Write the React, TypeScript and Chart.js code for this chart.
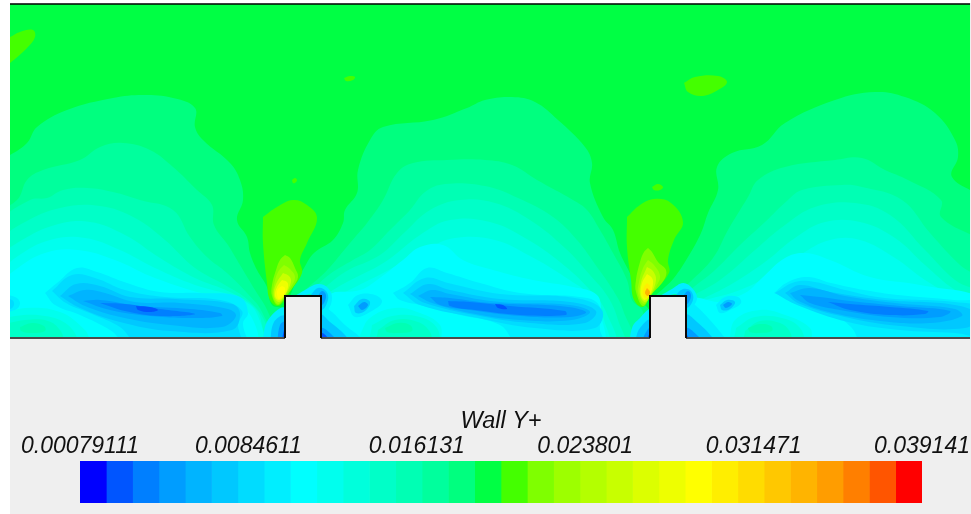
import React, { useEffect, useRef } from "react";
import { Chart, registerables } from "chart.js";
Chart.register(...registerables);

type P = [number, number];
type Contour = { level: number; points: P[]; straight?: boolean };

// legend
const colourLevels = [
  "#0000ff","#0055ff","#007fff","#009dff","#00b4ff","#00c8ff","#00dcff","#00eeff",
  "#00ffff","#00ffee","#00ffdc","#00ffc8","#00ffb4","#00ff9d","#00ff7f","#00ff44",
  "#44ff00","#7fff00","#9dff00","#b4ff00","#c8ff00","#dcff00","#eeff00","#ffff00",
  "#ffee00","#ffdc00","#ffc800","#ffb400","#ff9d00","#ff7f00","#ff5500","#ff0000",
];
const levelEdges = [
  0.00079111,0.00198955,0.00318799,0.00438643,0.00558487,0.00678331,0.00798175,0.00918019,
  0.01037863,0.01157707,0.01277551,0.01397395,0.01517239,0.01637083,0.01756927,0.01876771,
  0.01996615,0.02116459,0.02236303,0.02356147,0.02475991,0.02595835,0.02715679,0.02835523,
  0.02955367,0.03075211,0.03195055,0.03314899,0.03434743,0.03554587,0.03674431,0.03794275,0.039141,
];
const tickValues = [0.00079111, 0.0084611, 0.016131, 0.023801, 0.031471, 0.039141];
const tickLabels = ["0.00079111", "0.0084611", "0.016131", "0.023801", "0.031471", "0.039141"];
const legendTitle = "Wall Y+";

// left cavity
const left14: P[] = [[-10,165],[10,155],[27,143],[37,127],[67,110],[113,98],[143,95],[173,98],[195,108],[195,127],[203,140],[230,163],[240,180],[243,200],[237,220],[247,237],[250,253],[257,270],[267,287],[272,305],[285,310],[285,345],[-10,345]];
const left13: P[] = [[-10,215],[17,200],[27,180],[43,170],[80,160],[100,147],[123,143],[150,150],[173,167],[197,190],[212,205],[214,225],[228,245],[240,265],[255,290],[268,312],[278,345],[-10,345]];
const left12: P[] = [[-10,225],[30,200],[47,198],[63,190],[87,188],[113,192],[140,200],[173,210],[190,237],[207,257],[227,273],[247,293],[262,312],[270,345],[-10,345]];
const left11: P[] = [[-10,245],[25,222],[60,208],[100,206],[135,218],[165,240],[195,268],[225,285],[248,300],[264,320],[268,345],[-10,345]];
const left10: P[] = [[-10,262],[22,240],[55,225],[90,222],[125,235],[160,258],[195,278],[230,292],[255,308],[262,325],[262,345],[-10,345]];
const left9: P[] = [[-10,280],[18,256],[50,240],[85,238],[120,250],[155,268],[195,285],[235,297],[256,312],[258,345],[-10,345]];
const left8: P[] = [[-10,292],[15,270],[45,253],[78,250],[115,260],[150,276],[190,290],[232,302],[252,318],[254,345],[95,345],[85,330],[60,312],[25,308],[-10,315]];
const leftIsland10: P[] = [[-5,322],[15,316],[45,316],[68,325],[75,340],[-5,340]];
const leftIsland11: P[] = [[5,324],[25,320],[48,321],[60,330],[62,340],[5,340]];
const leftIsland12: P[] = [[20,327],[32,323],[44,326],[45,331],[32,333],[21,331]];
const leftEdge7: P[] = [[-10,293],[15,297],[20,303],[15,310],[-10,313]];
const leftEdge6: P[] = [[-10,296],[12,300],[14,305],[10,309],[-10,310]];
const left7: P[] = [[45,293],[57,283],[77,268],[97,272],[127,283],[160,292],[200,293],[240,297],[248,313],[243,323],[245,345],[130,345],[110,330],[80,315],[55,305]];
const left6: P[] = [[52,291],[72,275],[95,278],[125,290],[165,297],[220,300],[242,311],[238,325],[240,345],[140,345],[120,327],[92,314],[66,303]];
const left5: P[] = [[60,296],[76,284],[100,286],[130,297],[175,299],[232,304],[240,314],[232,330],[170,331],[120,322],[80,308]];
const left4: P[] = [[68,296],[85,290],[105,293],[135,302],[180,303],[228,309],[236,316],[222,327],[170,325],[120,317],[85,306]];
const left3: P[] = [[83,301],[100,300],[140,306],[190,309],[220,313],[222,316],[195,318],[150,316],[110,310]];
const left2: P[] = [[100,303],[125,304],[160,309],[195,314],[160,316],[125,311]];
const left1: P[] = [[136,306],[150,307],[158,310],[150,312],[138,310]];
const rib1Foot7: P[] = [[262,345],[268,320],[285,308],[285,345]];
const rib1Foot5: P[] = [[270,345],[274,322],[285,316],[285,345]];
const rib1Foot3: P[] = [[277,345],[280,325],[285,322],[285,345]];
const rib1Foot1: P[] = [[281,345],[284,330],[285,328],[285,345]];

// middle cavity
const mid14: P[] = [[290,296],[296,282],[304,268],[314,253],[333,240],[343,223],[345,210],[357,193],[358,170],[370,140],[383,127],[433,120],[467,108],[485,100],[512,97],[535,102],[558,120],[585,147],[592,163],[590,183],[603,217],[613,230],[620,253],[633,280],[637,297],[650,312],[650,345],[285,345]];
const mid13: P[] = [[305,290],[320,277],[330,267],[350,243],[367,223],[383,200],[397,173],[413,163],[447,160],[485,160],[512,165],[537,180],[573,200],[587,210],[600,230],[613,253],[627,280],[632,300],[643,312],[643,345],[300,345]];
const mid12: P[] = [[310,292],[330,274],[353,260],[370,250],[390,230],[410,210],[425,192],[445,184],[485,186],[518,198],[553,217],[577,240],[597,267],[613,290],[623,310],[630,345],[305,345]];
const mid11: P[] = [[316,295],[345,272],[380,255],[405,232],[430,210],[460,200],[495,203],[530,220],[565,248],[590,275],[608,297],[618,320],[622,345],[312,345]];
const mid10: P[] = [[322,297],[345,283],[385,262],[420,235],[450,220],[490,222],[525,238],[560,262],[590,290],[606,312],[612,345],[322,345]];
const mid9: P[] = [[345,292],[385,272],[425,250],[455,238],[495,240],[530,256],[565,277],[593,298],[604,320],[606,345],[330,345]];
const mid8: P[] = [[335,292],[360,290],[377,280],[403,260],[420,247],[443,245],[463,260],[493,270],[533,280],[573,287],[597,295],[601,313],[601,345],[445,345],[440,325],[420,313],[395,308],[370,318],[360,335],[355,345],[321,345],[321,300]];
const midIsland10: P[] = [[372,325],[392,316],[420,317],[437,328],[437,342],[372,342]];
const midIsland11: P[] = [[378,330],[395,320],[418,322],[430,332],[430,342],[378,342]];
const midIsland12: P[] = [[385,328],[398,323],[410,325],[412,331],[398,333],[387,332]];
const mid7: P[] = [[393,293],[410,283],[427,268],[447,273],[480,283],[520,293],[587,298],[600,307],[600,330],[604,345],[520,345],[500,325],[460,315],[420,305],[400,300]];
const mid6: P[] = [[403,293],[425,278],[448,283],[500,294],[575,298],[602,310],[595,328],[535,328],[478,318],[420,305]];
const mid5: P[] = [[410,294],[428,284],[450,290],[500,299],[570,302],[596,311],[585,323],[530,323],[475,315],[425,303]];
const mid4: P[] = [[418,296],[432,290],[450,294],[500,302],[570,305],[590,312],[572,320],[520,320],[470,313],[432,303]];
const mid3: P[] = [[430,297],[450,298],[490,303],[560,306],[586,312],[570,317],[520,316],[470,310],[440,305]];
const mid2: P[] = [[448,301],[470,302],[510,306],[565,311],[566,315],[520,315],[475,310],[450,306]];
const mid1: P[] = [[495,304],[503,305],[507,309],[498,308]];
const rib1Top7: P[] = [[295,296],[305,290],[318,284],[328,288],[332,298],[328,310],[321,315],[321,296]];
const rib1Top5: P[] = [[310,296],[318,288],[326,291],[328,300],[321,310]];
const rib1Top3: P[] = [[318,296],[322,291],[326,295],[324,303],[321,305]];
const rib1After7: P[] = [[321,345],[321,305],[332,312],[345,325],[360,337],[365,345]];
const rib1After5: P[] = [[321,345],[321,315],[330,322],[345,335],[350,345]];
const rib1After3: P[] = [[321,345],[321,328],[335,338],[338,345]];
const rib1After1: P[] = [[321,345],[321,333],[328,338],[330,345]];
const midSpot7: P[] = [[348,305],[358,295],[375,295],[382,302],[370,312],[355,317]];
const midSpot5: P[] = [[354,306],[362,299],[370,302],[365,311],[356,313]];
const midSpot3: P[] = [[358,306],[364,302],[368,305],[362,310]];
const rib2Foot7: P[] = [[650,345],[650,310],[640,318],[632,328],[632,345]];
const rib2Foot5: P[] = [[650,345],[650,320],[640,328],[636,338],[636,345]];
const rib2Foot3: P[] = [[650,345],[650,328],[644,336],[642,345]];
const rib2Foot1: P[] = [[650,345],[650,333],[646,345]];

// right cavity
const right14: P[] = [[655,296],[665,287],[674,278],[688,257],[701,233],[708,213],[718,190],[717,167],[732,153],[762,145],[785,123],[835,100],[875,92],[905,97],[935,113],[955,140],[958,157],[952,177],[985,205],[985,345],[650,345]];
const right13: P[] = [[675,295],[690,282],[713,258],[728,230],[748,197],[758,180],[785,167],[835,160],[862,158],[885,170],[908,180],[941,200],[941,217],[985,250],[985,345],[665,345]];
const right12: P[] = [[680,298],[695,286],[715,270],[740,245],[765,222],[788,200],[802,190],[842,185],[862,187],[902,200],[930,233],[960,265],[985,285],[985,345],[672,345]];
const right11: P[] = [[690,297],[720,280],[755,250],[785,225],[815,207],[855,203],[890,215],[925,250],[955,280],[985,298],[985,345],[682,345]];
const right10: P[] = [[700,300],[730,285],[765,262],[795,238],[825,222],[860,222],[895,238],[925,265],[955,290],[985,305],[985,345],[690,345]];
const right9: P[] = [[705,300],[740,290],[770,275],[800,255],[830,240],[860,240],[895,258],[925,280],[960,300],[985,310],[985,345],[695,345]];
const right8: P[] = [[718,302],[745,293],[762,278],[785,258],[805,253],[830,260],[870,277],[920,285],[985,302],[985,345],[815,345],[810,328],[785,315],[760,310],[735,320],[725,345],[688,345],[688,300]];
const rightIsland10: P[] = [[736,328],[755,317],[782,318],[800,328],[802,342],[736,342]];
const rightIsland11: P[] = [[745,331],[760,321],[780,323],[790,332],[790,342],[745,342]];
const rightIsland12: P[] = [[748,328],[760,324],[771,326],[772,331],[760,333],[750,332]];
const right7: P[] = [[774,293],[788,282],[808,277],[831,283],[864,290],[898,295],[954,300],[985,305],[985,345],[865,345],[851,327],[831,313],[798,303]];
const right6: P[] = [[775,293],[795,282],[815,282],[845,290],[885,298],[955,302],[985,310],[985,335],[955,333],[900,330],[848,322],[797,305]];
const right5: P[] = [[785,293],[800,285],[830,292],[885,300],[955,305],[980,316],[965,328],[900,326],[845,317],[800,304]];
const right4: P[] = [[790,293],[810,288],[845,296],[895,303],[955,309],[962,316],[930,323],[880,321],[825,311],[797,300]];
const right3: P[] = [[800,295],[820,297],[850,301],[900,306],[950,311],[940,317],[890,317],[840,310],[810,303]];
const right2: P[] = [[828,302],[850,304],[890,307],[928,311],[925,314],[890,315],[850,310]];
const rib2Top7: P[] = [[660,296],[672,289],[683,283],[692,288],[697,298],[692,308],[686,314],[686,296]];
const rib2Top5: P[] = [[675,296],[683,289],[691,291],[693,300],[686,308]];
const rib2Top3: P[] = [[683,296],[688,291],[691,295],[689,302],[686,304]];
const rib2After7: P[] = [[686,345],[686,300],[695,305],[710,320],[725,338],[730,345]];
const rib2After5: P[] = [[686,345],[686,315],[697,322],[712,337],[716,345]];
const rib2After3: P[] = [[686,345],[686,328],[698,336],[703,345]];
const rib2After1: P[] = [[686,345],[686,334],[691,345]];
const rightSpot7: P[] = [[716,305],[725,297],[738,297],[741,303],[730,310],[720,313]];
const rightSpot5: P[] = [[720,305],[727,300],[735,302],[730,309],[722,310]];
const rightSpot3: P[] = [[723,305],[728,302],[732,304],[726,308]];

// plumes ahead of the ribs
const plume1L16: P[] = [[263,217],[277,207],[293,200],[307,205],[317,218],[307,243],[300,260],[302,273],[290,292],[285,300],[278,306],[270,300],[267,283],[263,243]];
const plume1L17: P[] = [[285,255],[290,258],[295,268],[298,277],[293,287],[287,295],[278,305],[272,296],[272,285],[276,270],[280,260]];
const plume1L18: P[] = [[284,265],[290,269],[295,277],[291,287],[285,296],[278,304],[273,296],[274,285],[278,272]];
const plume1L20: P[] = [[283,273],[289,276],[291,282],[285,295],[279,302],[274,296],[276,284]];
const plume1L22: P[] = [[282,280],[287,282],[288,287],[284,296],[279,300],[275,296],[277,287]];
const plume1L23: P[] = [[282,286],[285,288],[284,294],[279,299],[277,294],[278,289]];
const plume2L16: P[] = [[627,217],[640,205],[654,199],[671,203],[683,222],[674,240],[668,260],[669,273],[651,295],[643,307],[634,300],[631,280],[627,247]];
const plume2L17: P[] = [[648,248],[652,252],[658,262],[666,270],[664,280],[651,295],[643,306],[636,292],[636,280],[640,262],[644,252]];
const plume2L18: P[] = [[648,260],[654,265],[660,276],[656,287],[651,295],[644,304],[638,294],[639,282],[643,268]];
const plume2L20: P[] = [[647,267],[653,271],[656,280],[651,294],[645,302],[640,295],[641,282]];
const plume2L22: P[] = [[647,274],[652,278],[653,284],[650,294],[645,300],[641,295],[642,283]];
const plume2L24: P[] = [[647,283],[650,286],[650,294],[646,298],[643,294],[644,287]];
const plume2L27: P[] = [[647,288],[650,292],[648,296],[645,293]];

// isolated patches in the upper flow
const patchTopLeft: P[] = [[-10,45],[10,37],[20,32],[33,30],[35,37],[27,48],[10,63],[-10,78]];
const patchA: P[] = [[344,78],[350,76],[355,77],[353,80],[346,81]];
const patchB: P[] = [[292,180],[295,178],[297,180],[295,183],[293,183]];
const patchC: P[] = [[684,83],[695,77],[718,76],[727,82],[718,90],[702,96],[688,92]];
const patchD: P[] = [[652,187],[658,184],[663,187],[660,190],[654,190]];
const baseField: P[] = [[-50,-50],[1010,-50],[1010,400],[-50,400]];

// walls
const rib1Solid: P[] = [[285,296],[321,296],[321,345],[285,345]];
const rib2Solid: P[] = [[650,296],[686,296],[686,345],[650,345]];
const rib1Outline: P[] = [[285,338],[285,296],[321,296],[321,338]];
const rib2Outline: P[] = [[650,338],[650,296],[686,296],[686,338]];
const wallA: P[] = [[10,338],[285,338]];
const wallB: P[] = [[321,338],[650,338]];
const wallC: P[] = [[686,338],[970,338]];
const topWall: P[] = [[10,4],[970,4]];

const contours: Contour[] = [
  { level: 15, points: baseField, straight: true },
  ...[left14, mid14, right14].map((points) => ({ level: 14, points })),
  ...[left13, mid13, right13].map((points) => ({ level: 13, points })),
  ...[left12, mid12, right12].map((points) => ({ level: 12, points })),
  ...[left11, mid11, right11].map((points) => ({ level: 11, points })),
  ...[left10, mid10, right10].map((points) => ({ level: 10, points })),
  ...[left9, mid9, right9].map((points) => ({ level: 9, points })),
  ...[left8, mid8, right8].map((points) => ({ level: 8, points })),
  ...[leftIsland10, midIsland10, rightIsland10].map((points) => ({ level: 10, points })),
  ...[leftIsland11, midIsland11, rightIsland11].map((points) => ({ level: 11, points })),
  ...[leftIsland12, midIsland12, rightIsland12].map((points) => ({ level: 12, points })),
  ...[left7, mid7, right7, leftEdge7].map((points) => ({ level: 7, points })),
  ...[left6, mid6, right6, leftEdge6].map((points) => ({ level: 6, points })),
  ...[left5, mid5, right5].map((points) => ({ level: 5, points })),
  ...[left4, mid4, right4].map((points) => ({ level: 4, points })),
  ...[left3, mid3, right3].map((points) => ({ level: 3, points })),
  ...[left2, mid2, right2].map((points) => ({ level: 2, points })),
  { level: 1, points: left1 },
  { level: 1, points: mid1 },
  ...[patchTopLeft, patchA, patchB, patchC, patchD].map((points) => ({ level: 16, points })),
  { level: 16, points: plume1L16 }, { level: 17, points: plume1L17 }, { level: 18, points: plume1L18 },
  { level: 20, points: plume1L20 }, { level: 22, points: plume1L22 }, { level: 23, points: plume1L23 },
  { level: 16, points: plume2L16 }, { level: 17, points: plume2L17 }, { level: 18, points: plume2L18 },
  { level: 20, points: plume2L20 }, { level: 22, points: plume2L22 }, { level: 24, points: plume2L24 },
  { level: 27, points: plume2L27 },
  ...[rib1Foot7, rib1Top7, rib1After7, rib2Foot7, rib2Top7, rib2After7, midSpot7, rightSpot7].map((points) => ({ level: 7, points })),
  ...[rib1Foot5, rib1Top5, rib1After5, rib2Foot5, rib2Top5, rib2After5, midSpot5, rightSpot5].map((points) => ({ level: 5, points })),
  ...[rib1Foot3, rib1Top3, rib1After3, rib2Foot3, rib2Top3, rib2After3, midSpot3, rightSpot3].map((points) => ({ level: 3, points })),
  ...[rib1Foot1, rib1After1, rib2Foot1, rib2After1].map((points) => ({ level: 1, points })),
];

const SOLID = "#efefef";
const toXY = (pts: P[]) => pts.map(([x, y]) => ({ x, y }));

export default function App() {
  const fieldRef = useRef<HTMLCanvasElement>(null);
  const barRef = useRef<HTMLCanvasElement>(null);

  useEffect(() => {
    document.body.style.margin = "0";
    document.body.style.background = "#ffffff";

    const fills: any[] = contours.map((c) => ({
      data: toXY([...c.points, c.points[0]]),
      backgroundColor: colourLevels[c.level],
      borderColor: "transparent",
      borderWidth: 0,
      fill: "shape",
      showLine: true,
      pointRadius: 0,
      tension: c.straight ? 0 : 0.4,
      capBezierPoints: false,
    }));
    [rib1Solid, rib2Solid].forEach((pts) =>
      fills.push({
        data: toXY([...pts, pts[0]]),
        backgroundColor: SOLID,
        borderColor: "transparent",
        borderWidth: 0,
        fill: "shape",
        showLine: true,
        pointRadius: 0,
        tension: 0,
      })
    );
    const strokes = [
      { pts: wallA, color: "#4a4a4a", width: 2 },
      { pts: wallB, color: "#4a4a4a", width: 2 },
      { pts: wallC, color: "#4a4a4a", width: 2 },
      { pts: topWall, color: "#000000", width: 1.5 },
      { pts: rib1Outline, color: "#0a0a0a", width: 2 },
      { pts: rib2Outline, color: "#0a0a0a", width: 2 },
    ];
    strokes.forEach((s) =>
      fills.push({
        data: toXY(s.pts),
        borderColor: s.color,
        borderWidth: s.width,
        fill: false,
        showLine: true,
        pointRadius: 0,
        tension: 0,
        clip: false,
      })
    );
    fills.forEach((d, i) => (d.order = fills.length - i));

    const field = new Chart(fieldRef.current!, {
      type: "scatter",
      data: { datasets: fills },
      options: {
        responsive: false,
        animation: false,
        events: [],
        layout: { padding: { left: 10, right: 1, top: 4, bottom: 176 } },
        plugins: { legend: { display: false }, tooltip: { enabled: false } },
        scales: {
          x: { type: "linear", display: false, min: 10, max: 970 },
          y: { type: "linear", display: false, min: 4, max: 338, reverse: true },
        },
      },
    } as any);

    const bar = new Chart(barRef.current!, {
      type: "bar",
      data: {
        labels: [legendTitle],
        datasets: colourLevels.map((colour, i) => ({
          data: [[levelEdges[i], levelEdges[i + 1]]],
          backgroundColor: colour,
          borderWidth: 0,
          borderSkipped: false,
          grouped: false,
          barPercentage: 1,
          categoryPercentage: 1,
        })),
      } as any,
      options: {
        indexAxis: "y",
        responsive: false,
        animation: false,
        events: [],
        layout: { padding: { left: 80, right: 49, top: 0, bottom: 11 } },
        plugins: { legend: { display: false }, tooltip: { enabled: false } },
        scales: {
          y: { display: false },
          x: {
            type: "linear",
            position: "top",
            min: levelEdges[0],
            max: levelEdges[levelEdges.length - 1],
            grid: { display: false },
            border: { display: false },
            afterFit: (s: any) => { s.height = 461; },
            afterBuildTicks: (s: any) => { s.ticks = tickValues.map((value) => ({ value })); },
            ticks: {
              autoSkip: false,
              maxRotation: 0,
              minRotation: 0,
              padding: -7,
              color: "#111111",
              font: { family: "Liberation Sans", size: 23, style: "italic" },
              callback: (_v: any, i: number) => tickLabels[i],
            },
            title: {
              display: true,
              text: legendTitle,
              color: "#111111",
              font: { family: "Liberation Sans", size: 23.5, style: "italic" },
              padding: { top: 407, bottom: 0 },
            },
          },
        },
      },
    } as any);

    return () => {
      field.destroy();
      bar.destroy();
    };
  }, []);

  const layer: React.CSSProperties = { position: "absolute", left: 0, top: 0 };
  return (
    <div style={{ position: "relative", width: 971, height: 514, overflow: "hidden" }}>
      <div style={{ position: "absolute", left: 10, top: 3, width: 961, height: 511, background: SOLID }} />
      <canvas ref={fieldRef} width={971} height={514} style={layer} />
      <canvas ref={barRef} width={971} height={514} style={layer} />
    </div>
  );
}
